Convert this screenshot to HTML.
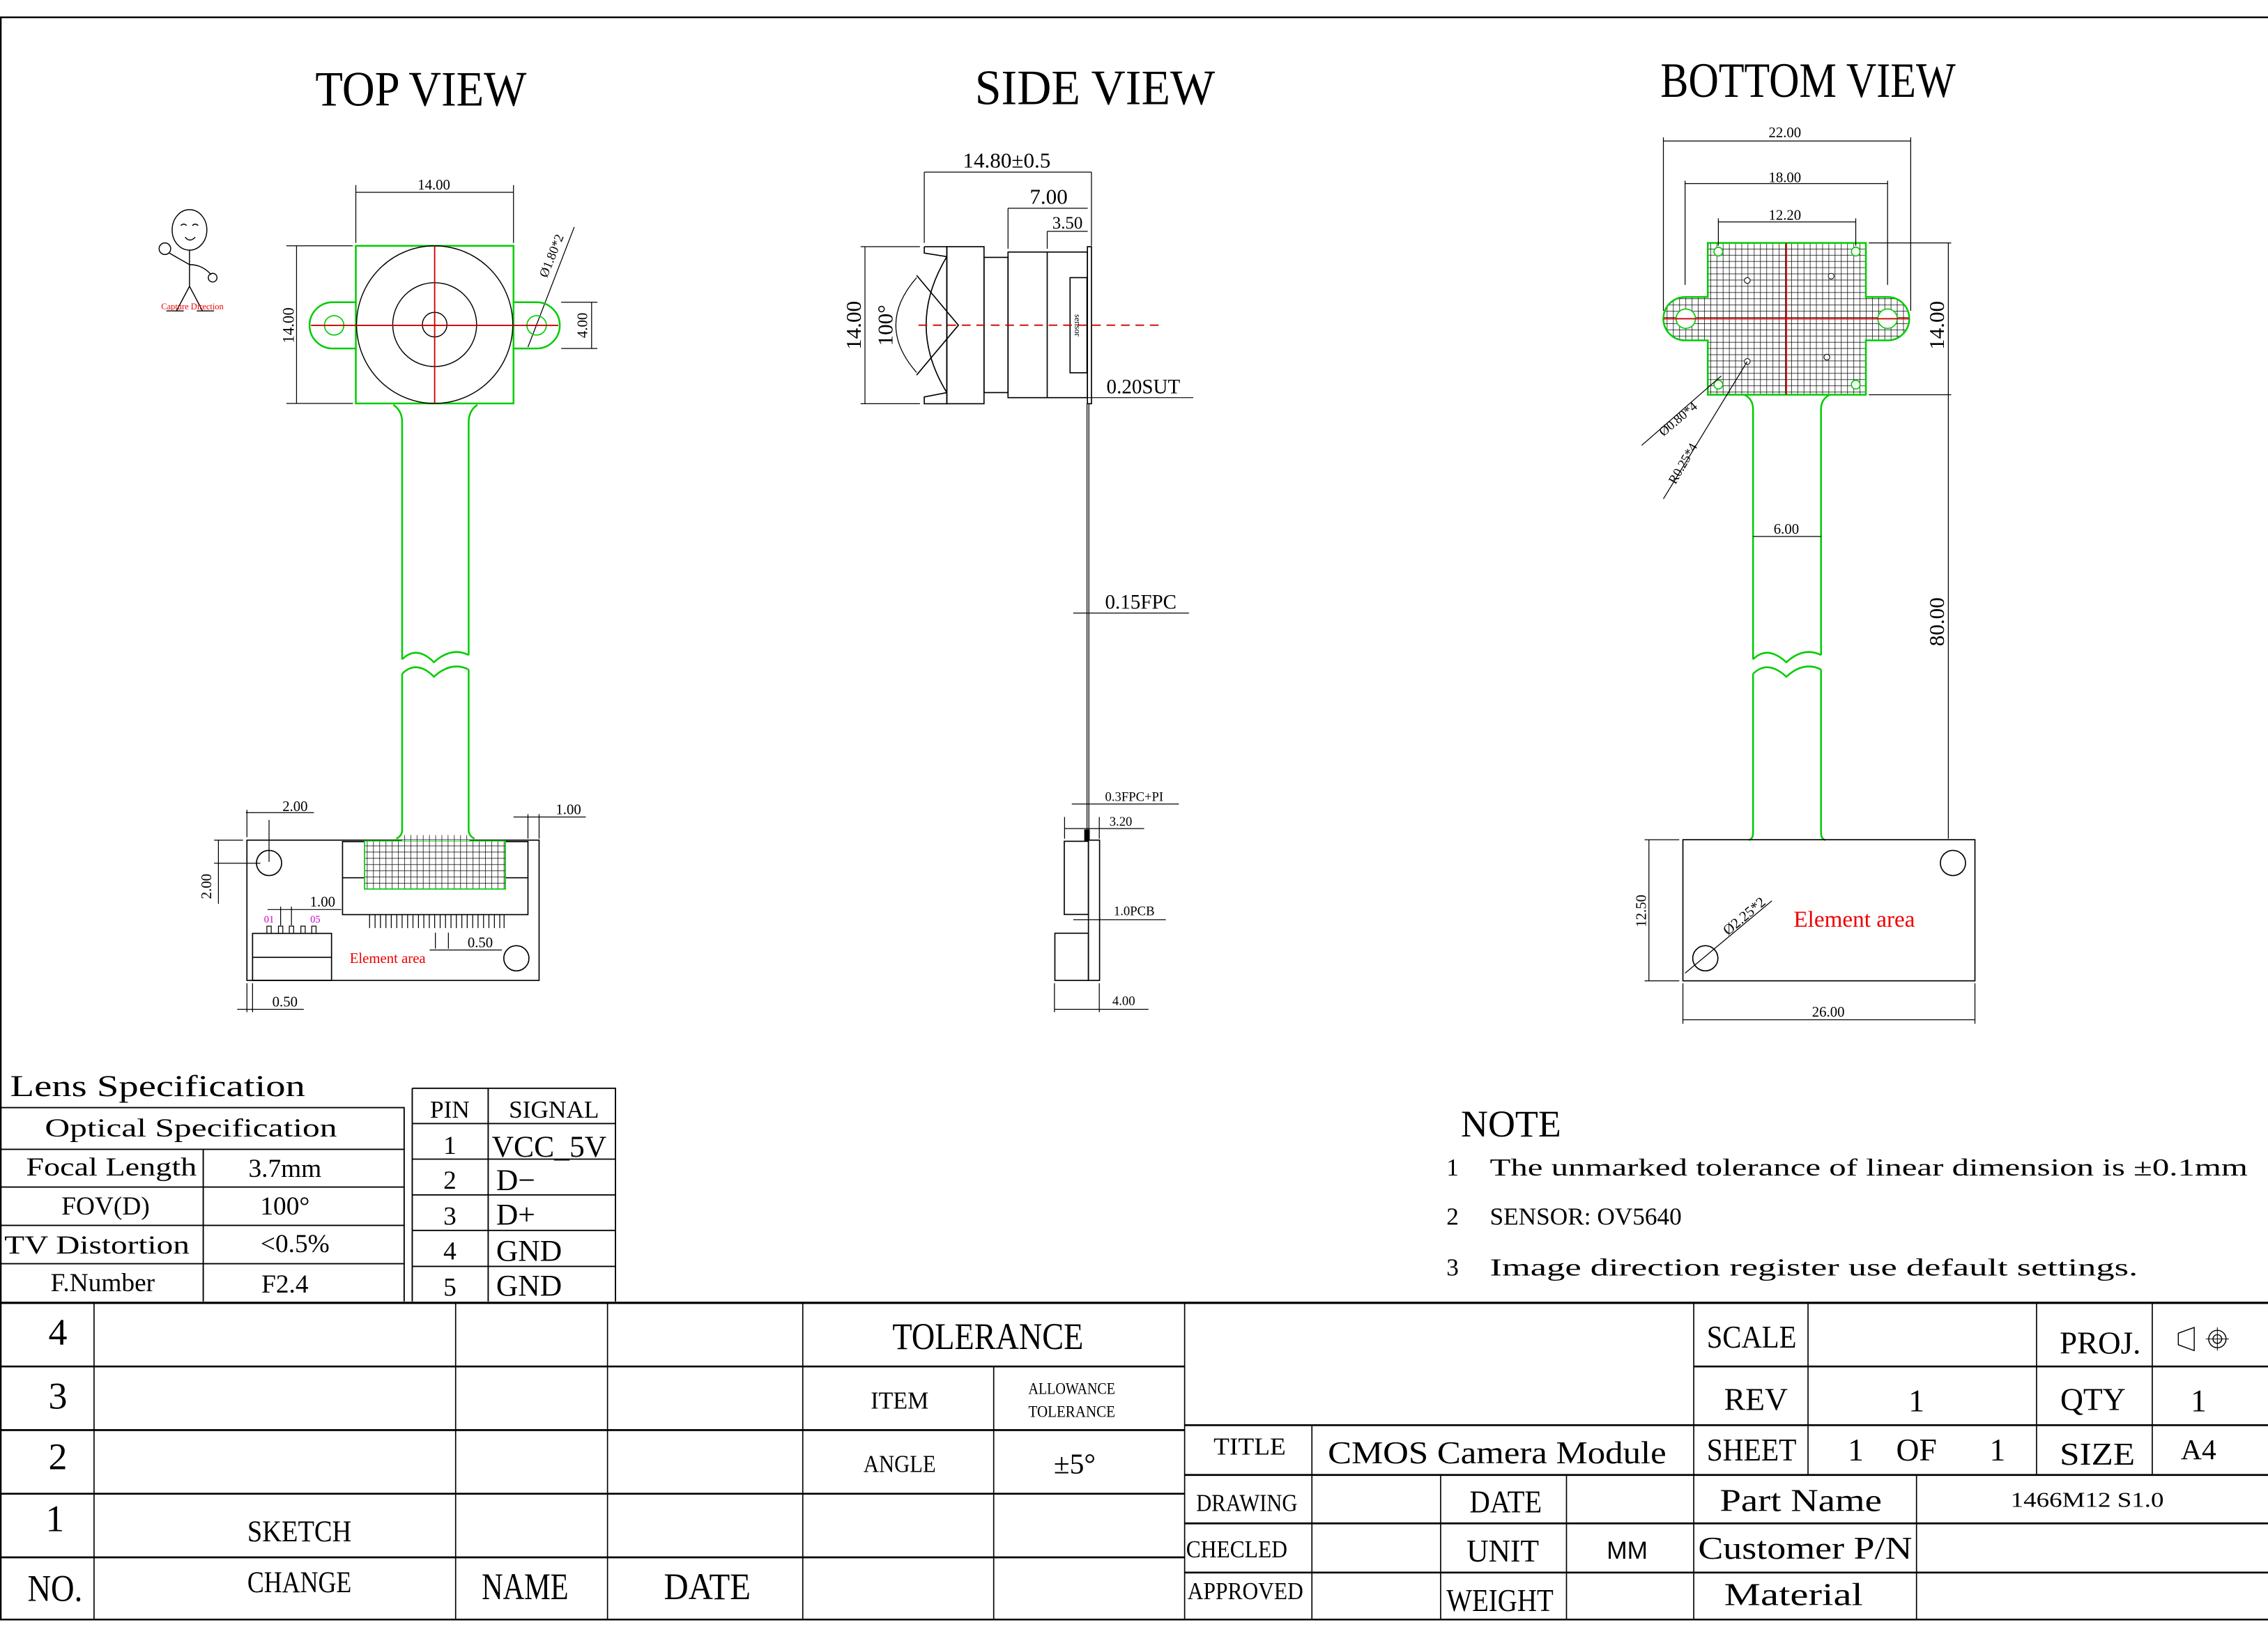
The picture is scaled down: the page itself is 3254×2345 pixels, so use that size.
<!DOCTYPE html>
<html><head><meta charset="utf-8"><style>
html,body{margin:0;padding:0;background:#fff;width:3254px;height:2345px;overflow:hidden}
svg{display:block}
text{font-family:"Liberation Serif","Noto Serif CJK SC",serif;fill:#000}
.s{font-family:"Liberation Sans",sans-serif}
</style></head><body>
<svg width="3254" height="2345" viewBox="0 0 1568 1130" xmlns="http://www.w3.org/2000/svg">
<defs>
<pattern id="g" width="4.3" height="4.3" patternUnits="userSpaceOnUse">
<rect width="4.3" height="4.3" fill="#fff"/>
<path d="M0 0H4.3M0 0V4.3" stroke="#000" stroke-width="0.7"/>
</pattern>
</defs>
<rect width="1568" height="1130" fill="#fff"/>
<!-- frame -->
<path d="M0 12H1568M0.5 12V1120M0 1120H1568" stroke="#000" stroke-width="1.2" fill="none"/>

<!-- titles -->
<text x="291" y="73" font-size="34" text-anchor="middle" textLength="146" lengthAdjust="spacingAndGlyphs">TOP VIEW</text>
<text x="757" y="72" font-size="34" text-anchor="middle" textLength="166" lengthAdjust="spacingAndGlyphs">SIDE VIEW</text>
<text x="1250" y="67" font-size="34" text-anchor="middle" textLength="204" lengthAdjust="spacingAndGlyphs">BOTTOM VIEW</text>

<!-- ===== TOP VIEW ===== -->
<g fill="none" stroke-width="0.8">
<!-- stick figure -->
<g stroke="#000" stroke-width="0.7">
<ellipse cx="131" cy="159" rx="12" ry="14"/>
<path d="M125 156q2-2 4 0M133 156q2-2 4 0M128 164q3 4 7 0M131 173V198M131 198L122 215M131 198L140 215M131 183L117 175M131 183Q140 183 146 190"/>
<circle cx="114" cy="172" r="4"/><circle cx="147" cy="192" r="3"/>
<path d="M115 215h12M136 215h12"/>
</g>
<text x="133" y="214" font-size="6" fill="#e00" style="fill:#e00" text-anchor="middle">Capture Direction</text>

<!-- dims -->
<g stroke="#000" stroke-width="0.6">
<path d="M246 128V168M355 128V168M246 133H355"/>
<path d="M198 170H244M198 279H244M205 170V279"/>
<path d="M388 209H413M388 241H413M409 209V241"/>
<path d="M365 240L397 157"/>
</g>
<text x="300" y="131" font-size="10" text-anchor="middle">14.00</text>
<text font-size="11" transform="translate(203,225) rotate(-90)" text-anchor="middle">14.00</text>
<text font-size="10" transform="translate(406,225) rotate(-90)" text-anchor="middle">4.00</text>
<text font-size="9" transform="translate(384,178) rotate(-68)" text-anchor="middle">Ø1.80*2</text>

<!-- lens square and ears -->
<path d="M246 209H230A16 16 0 0 0 230 241H246M355 209H371A16 16 0 0 1 371 241H355" stroke="#0c0" stroke-width="1.2"/>
<rect x="246" y="170" width="109" height="109" stroke="#0c0" stroke-width="1.2"/>
<circle cx="231" cy="225" r="6.7" stroke="#0c0"/>
<circle cx="371" cy="225" r="6.7" stroke="#0c0"/>
<g stroke="#000" stroke-width="0.7">
<ellipse cx="300.5" cy="224.5" rx="54" ry="54.5"/>
<circle cx="300.5" cy="224.5" r="29"/>
<circle cx="300.5" cy="224.5" r="8.5"/>
</g>
<path d="M215 225H386M300.5 170V279" stroke="#c00" stroke-width="0.9"/>

<!-- FPC -->
<g stroke="#0c0" stroke-width="1.2">
<path d="M272 280Q278 284 278 292V456M330 280Q324 284 324 292V453"/>
<path d="M278 456Q288 446 300 458Q312 447 324 453"/>
<path d="M278 466Q288 456 300 468Q312 457 324 463"/>
<path d="M278 466V574Q278 578 274 580M324 463V574Q324 578 328 580"/>
</g>
<!-- connector board -->
<g stroke="#000" stroke-width="0.8">
<rect x="170.7" y="581" width="202" height="97"/>
<rect x="236.8" y="582" width="128.2" height="50.5"/>
<path d="M236.8 607H365"/>
<circle cx="186" cy="596.8" r="8.7"/>
<circle cx="357" cy="662.7" r="8.7"/>
<rect x="174.6" y="645.5" width="54.6" height="32.5"/>
<path d="M174.6 662H229.2"/>
<path d="M184.5 645.5v-5h3v5M192.5 645.5v-5h3v5M200 645.5v-5h3v5M208 645.5v-5h3v5M215.5 645.5v-5h3v5" stroke-width="0.6"/>
</g>
<rect x="252" y="581.5" width="97.4" height="33.3" fill="url(#g)" stroke="#0c0"/>
<rect x="277.9" y="577.5" width="46.6" height="4" fill="url(#g)" stroke="none"/>
<g stroke="#000" stroke-width="0.6">
<path d="M255.5 632.5v9.3M259.3 632.5v9.3M263 632.5v9.3M266.8 632.5v9.3M270.5 632.5v9.3M274.3 632.5v9.3M278 632.5v9.3M281.8 632.5v9.3M285.5 632.5v9.3M289.3 632.5v9.3M293 632.5v9.3M296.8 632.5v9.3M300.5 632.5v9.3M304.3 632.5v9.3M308 632.5v9.3M311.8 632.5v9.3M315.5 632.5v9.3M319.3 632.5v9.3M323 632.5v9.3M326.8 632.5v9.3M330.5 632.5v9.3M334.3 632.5v9.3M338 632.5v9.3M341.8 632.5v9.3M345.5 632.5v9.3M348.5 632.5v9.3"/>
<path d="M170.7 560V579M186 567V596M170 562H217"/>
<path d="M365 563V580M372.7 563V580M355 565H405"/>
<path d="M148 581H168M148 597H180M151 581V625"/>
<path d="M185 629H236M194 627V640M201.5 627V640"/>
<path d="M301 645V656M310 645V656M297 657H347"/>
<path d="M170.7 680V700M174.6 680V700M164 698H210"/>
</g>
<text x="204" y="561" font-size="10" text-anchor="middle">2.00</text>
<text x="393" y="563" font-size="10" text-anchor="middle">1.00</text>
<text font-size="10" transform="translate(146,613) rotate(-90)" text-anchor="middle">2.00</text>
<text x="223" y="627" font-size="10" text-anchor="middle">1.00</text>
<text x="332" y="655" font-size="10" text-anchor="middle">0.50</text>
<text x="197" y="696" font-size="10" text-anchor="middle">0.50</text>
<text x="186" y="638" font-size="7" style="fill:#c0c" text-anchor="middle">01</text>
<text x="218" y="638" font-size="7" style="fill:#c0c" text-anchor="middle">05</text>
<text x="268" y="666" font-size="10" style="fill:#e00" text-anchor="middle">Element area</text>
</g>

<!-- ===== SIDE VIEW ===== -->
<g fill="none" stroke="#000" stroke-width="0.8">
<path d="M639 170.6H654.6V279.2H639V274.5L654.6 271.5M639 170.6V175L654.6 177.5"/>
<rect x="654.6" y="170.6" width="25.7" height="108.6"/>
<rect x="680.3" y="178" width="16.6" height="93.5"/>
<rect x="696.9" y="174.3" width="54.9" height="100.7"/>
<path d="M724 174.3V275"/>
<rect x="739.8" y="192" width="11.7" height="65.8"/>
<rect x="751.8" y="170.6" width="2.8" height="108.6"/>
<path d="M654.6 177.5Q626 224.9 654.6 271.5"/>
<path d="M633.7 190.4L662.6 224.9L633.7 259.4"/>
<path d="M633.7 192Q605 224.9 633.7 257.6" stroke-width="0.6"/>
<path d="M751.5 279V581M752.8 279V581" stroke-width="0.6"/>
<rect x="752.5" y="581" width="7.7" height="97"/>
<rect x="735.8" y="581.8" width="16.7" height="50.6"/>
<rect x="729.3" y="645.4" width="23.2" height="32.6"/>
<rect x="750" y="574" width="3" height="7" fill="#000"/>
<g stroke-width="0.6">
<path d="M639 119V168M754.6 119V170M639 119H754.6"/>
<path d="M696.9 144V172M696.9 144H752"/>
<path d="M724 160V172M724 160H752"/>
<path d="M595 170.6H636M595 279.2H636M598 170.6V279.2"/>
<path d="M744 275H825M742 424H822M741 556H815M736 573H791M736 565V580M760 565V580M742 636H806M729 698H794M729 680V700M760 680V700"/>
</g>
</g>
<path d="M635 224.9H801" stroke="#c00" stroke-width="0.9" stroke-dasharray="6,4"/>
<text x="696" y="116" font-size="15" text-anchor="middle">14.80±0.5</text>
<text x="725" y="141" font-size="15" text-anchor="middle">7.00</text>
<text x="738" y="158" font-size="12" text-anchor="middle">3.50</text>
<text font-size="15" transform="translate(595,225) rotate(-90)" text-anchor="middle">14.00</text>
<text font-size="15" transform="translate(617,225) rotate(-90)" text-anchor="middle">100°</text>
<text font-size="6" transform="translate(743,225) rotate(90)" text-anchor="middle">sensor</text>
<text x="765" y="272" font-size="14">0.20SUT</text>
<text x="764" y="421" font-size="14">0.15FPC</text>
<text x="764" y="554" font-size="9">0.3FPC+PI</text>
<text x="767" y="571" font-size="9">3.20</text>
<text x="770" y="633" font-size="9">1.0PCB</text>
<text x="769" y="695" font-size="9">4.00</text>

<!-- ===== BOTTOM VIEW ===== -->
<g fill="none" stroke-width="0.8">
<path d="M1180.7 168H1290V205.4H1305A15 15 0 0 1 1305 235.4H1290V273H1180.7V235.4H1165A15 15 0 0 1 1165 205.4H1180.7Z" fill="url(#g)" stroke="#0c0" stroke-width="1.2"/>
<g stroke="#0c0" fill="#fff">
<circle cx="1165.5" cy="220.4" r="6.7"/><circle cx="1305" cy="220.4" r="6.7"/>
<circle cx="1188" cy="174" r="3"/><circle cx="1283" cy="174" r="3"/>
<circle cx="1188" cy="266" r="3"/><circle cx="1283" cy="266" r="3"/>
</g>
<g stroke="#000" stroke-width="0.5" fill="#fff">
<circle cx="1208" cy="194" r="2"/><circle cx="1266" cy="191" r="2"/>
<circle cx="1208" cy="250" r="2"/><circle cx="1263" cy="247" r="2"/>
</g>
<path d="M1150 220.4H1320M1235 168V273" stroke="#c00" stroke-width="0.9"/>
<g stroke="#0c0" stroke-width="1.2">
<path d="M1206 273Q1212 276 1212 283V456M1265 273Q1259 276 1259 283V453"/>
<path d="M1212 456Q1222 446 1235 458Q1247 447 1259 453"/>
<path d="M1212 466Q1222 456 1235 468Q1247 457 1259 463"/>
<path d="M1212 466V576Q1212 580 1209 581M1259 463V576Q1259 580 1262 581"/>
</g>
<g stroke="#000">
<rect x="1163.5" y="580.7" width="201.9" height="97.6"/>
<circle cx="1350.2" cy="596.8" r="8.7"/>
<circle cx="1179" cy="662.7" r="8.7"/>
</g>
<g stroke="#000" stroke-width="0.6">
<path d="M1150 95V215M1321 95V215M1150 97.5H1321"/>
<path d="M1165 125V197M1305 125V197M1165 127H1305"/>
<path d="M1188 151V170M1283 151V170M1188 153.5H1283"/>
<path d="M1292 168H1349M1292 273H1349M1347 168V580"/>
<path d="M1212 371H1259"/>
<path d="M1137 580.7H1161M1137 678.3H1161M1140 580.7V678.3"/>
<path d="M1163.5 680V708M1365.4 680V708M1163.5 705.2H1365.4"/>
<path d="M1165 673L1225 623"/>
<path d="M1135 308L1190 260M1150 345L1208 250"/>
</g>
</g>
<text x="1234" y="95" font-size="10" text-anchor="middle">22.00</text>
<text x="1234" y="126" font-size="10" text-anchor="middle">18.00</text>
<text x="1234" y="152" font-size="10" text-anchor="middle">12.20</text>
<text x="1235" y="369" font-size="10" text-anchor="middle">6.00</text>
<text font-size="15" transform="translate(1344,225) rotate(-90)" text-anchor="middle">14.00</text>
<text font-size="15" transform="translate(1344,430) rotate(-90)" text-anchor="middle">80.00</text>
<text font-size="10" transform="translate(1138,630) rotate(-90)" text-anchor="middle">12.50</text>
<text x="1264" y="703" font-size="10" text-anchor="middle">26.00</text>
<text font-size="10" transform="translate(1208,636) rotate(-40)" text-anchor="middle">Ø2.25*2</text>
<text font-size="9" transform="translate(1162,292) rotate(-40)" text-anchor="middle">Ø0.80*4</text>
<text font-size="9" transform="translate(1166,322) rotate(-60)" text-anchor="middle">R0.25*4</text>
<text x="1282" y="641" font-size="16" style="fill:#e00" text-anchor="middle">Element area</text>

<!-- ===== Lens spec ===== -->
<text x="7" y="758" font-size="21" textLength="204" lengthAdjust="spacingAndGlyphs">Lens Specification</text>
<g stroke="#000" stroke-width="0.9" fill="none">
<path d="M0 766H279.4V900M0 794.8H279.4M0 820.9H279.4M0 847.4H279.4M0 873.9H279.4M140.5 794.8V900"/>
<path d="M285 752.6H425.5V900M285 752.6V900M337.5 752.6V900M285 777H425.5M285 801.6H425.5M285 826.3H425.5M285 850.9H425.5M285 875.8H425.5"/>
</g>
<g font-size="18">
<text x="132" y="786" text-anchor="middle" textLength="202" lengthAdjust="spacingAndGlyphs">Optical Specification</text>
<text x="77" y="813" text-anchor="middle" textLength="118" lengthAdjust="spacingAndGlyphs">Focal Length</text>
<text x="197" y="814" text-anchor="middle">3.7mm</text>
<text x="73" y="840" text-anchor="middle">FOV(D)</text>
<text x="197" y="840" text-anchor="middle">100°</text>
<text x="67" y="867" text-anchor="middle" textLength="128" lengthAdjust="spacingAndGlyphs">TV Distortion</text>
<text x="204" y="866" text-anchor="middle">&lt;0.5%</text>
<text x="71" y="893" text-anchor="middle">F.Number</text>
<text x="197" y="894" text-anchor="middle">F2.4</text>
<text x="311" y="773" text-anchor="middle" font-size="17">PIN</text>
<text x="383" y="773" text-anchor="middle" font-size="17">SIGNAL</text>
<text x="311" y="798" text-anchor="middle">1</text><text x="340" y="800" font-size="21">VCC_5V</text>
<text x="311" y="822" text-anchor="middle">2</text><text x="343" y="823" font-size="21">D−</text>
<text x="311" y="847" text-anchor="middle">3</text><text x="343" y="847" font-size="21">D+</text>
<text x="311" y="871" text-anchor="middle">4</text><text x="343" y="872" font-size="21">GND</text>
<text x="311" y="896" text-anchor="middle">5</text><text x="343" y="896" font-size="21">GND</text>
</g>

<!-- NOTE -->
<text x="1010" y="786" font-size="26">NOTE</text>
<g font-size="17">
<text x="1000" y="813">1</text><text x="1030" y="813" textLength="524" lengthAdjust="spacingAndGlyphs">The unmarked tolerance of linear dimension is ±0.1mm</text>
<text x="1000" y="847">2</text><text x="1030" y="847">SENSOR: OV5640</text>
<text x="1000" y="882">3</text><text x="1030" y="882" textLength="448" lengthAdjust="spacingAndGlyphs">Image direction register use default settings.</text>
</g>

<!-- ===== Title block ===== -->
<g stroke="#000" fill="none">
<path d="M0 901H1568" stroke-width="1.6"/>
<path d="M0 945H819M0 989H819M0 1033H819M0 1077H819" stroke-width="1.3"/>
<path d="M65 901V1120M315 901V1120M420 901V1120M555 901V1120M687 945V1120M819 901V1120" stroke-width="0.8"/>
<path d="M1171 945H1568M819 985.6H1568M819 1020H1568M819 1053.5H1568M819 1087.5H1568" stroke-width="1.3"/>
<path d="M1171 901V1120M1250 901V1020M1408 901V1020M1488 901V1020M907 985.6V1120M996 1020V1120M1083 1020V1120M1325 1020V1120" stroke-width="0.8"/>
<path d="M1506 922L1517 918V934L1506 930Z" stroke-width="0.7"/>
<circle cx="1533" cy="926" r="6" stroke-width="0.7"/><circle cx="1533" cy="926" r="3" stroke-width="0.7"/>
<path d="M1525 926H1541M1533 918V934" stroke-width="0.5"/>
</g>
<g font-size="26" text-anchor="middle">
<text x="40" y="930">4</text>
<text x="40" y="974">3</text>
<text x="40" y="1016">2</text>
<text x="38" y="1059">1</text>
<text x="38" y="1107" textLength="38" lengthAdjust="spacingAndGlyphs">NO.</text>
<text x="207" y="1066" font-size="21" textLength="72" lengthAdjust="spacingAndGlyphs">SKETCH</text>
<text x="207" y="1101" font-size="21" textLength="72" lengthAdjust="spacingAndGlyphs">CHANGE</text>
<text x="363" y="1106" textLength="60" lengthAdjust="spacingAndGlyphs">NAME</text>
<text x="489" y="1106" textLength="60" lengthAdjust="spacingAndGlyphs">DATE</text>
<text x="683" y="933" textLength="132" lengthAdjust="spacingAndGlyphs">TOLERANCE</text>
<text x="622" y="974" font-size="17" textLength="40" lengthAdjust="spacingAndGlyphs">ITEM</text>
<text x="741" y="964" font-size="11" textLength="60" lengthAdjust="spacingAndGlyphs">ALLOWANCE</text>
<text x="741" y="980" font-size="11" textLength="60" lengthAdjust="spacingAndGlyphs">TOLERANCE</text>
<text x="622" y="1018" font-size="17" textLength="50" lengthAdjust="spacingAndGlyphs">ANGLE</text>
<text x="743" y="1019" font-size="20">±5°</text>
<text x="1211" y="932" font-size="22" textLength="62" lengthAdjust="spacingAndGlyphs">SCALE</text>
<text x="1452" y="936" font-size="22" textLength="56" lengthAdjust="spacingAndGlyphs">PROJ.</text>
<text x="1214" y="975" font-size="22">REV</text>
<text x="1325" y="976" font-size="22">1</text>
<text x="1447" y="975" font-size="22">QTY</text>
<text x="1520" y="976" font-size="22">1</text>
<text x="864" y="1006" font-size="17" textLength="50" lengthAdjust="spacingAndGlyphs">TITLE</text>
<text x="1035" y="1012" font-size="22" textLength="234" lengthAdjust="spacingAndGlyphs">CMOS  Camera Module</text>
<text x="1211" y="1010" font-size="22" textLength="62" lengthAdjust="spacingAndGlyphs">SHEET</text>
<text x="1283" y="1010" font-size="22">1</text>
<text x="1325" y="1010" font-size="22">OF</text>
<text x="1381" y="1010" font-size="22">1</text>
<text x="1450" y="1013" font-size="22" textLength="52" lengthAdjust="spacingAndGlyphs">SIZE</text>
<text x="1520" y="1009" font-size="20">A4</text>
<text x="862" y="1045" font-size="17" textLength="70" lengthAdjust="spacingAndGlyphs">DRAWING</text>
<text x="1041" y="1046" font-size="22" textLength="50" lengthAdjust="spacingAndGlyphs">DATE</text>
<text x="1245" y="1045" font-size="22" textLength="112" lengthAdjust="spacingAndGlyphs">Part Name</text>
<text x="1443" y="1042" font-size="15" textLength="106" lengthAdjust="spacingAndGlyphs">1466M12 S1.0</text>
<text x="855" y="1077" font-size="17" textLength="70" lengthAdjust="spacingAndGlyphs">CHECLED</text>
<text x="1039" y="1080" font-size="22" textLength="50" lengthAdjust="spacingAndGlyphs">UNIT</text>
<text x="1125" y="1078" font-size="17" class="s">MM</text>
<text x="1248" y="1078" font-size="22" textLength="148" lengthAdjust="spacingAndGlyphs">Customer P/N</text>
<text x="861" y="1106" font-size="17" textLength="80" lengthAdjust="spacingAndGlyphs">APPROVED</text>
<text x="1037" y="1114" font-size="22" textLength="74" lengthAdjust="spacingAndGlyphs">WEIGHT</text>
<text x="1240" y="1110" font-size="22" textLength="96" lengthAdjust="spacingAndGlyphs">Material</text>
</g>
</svg>
</body></html>
